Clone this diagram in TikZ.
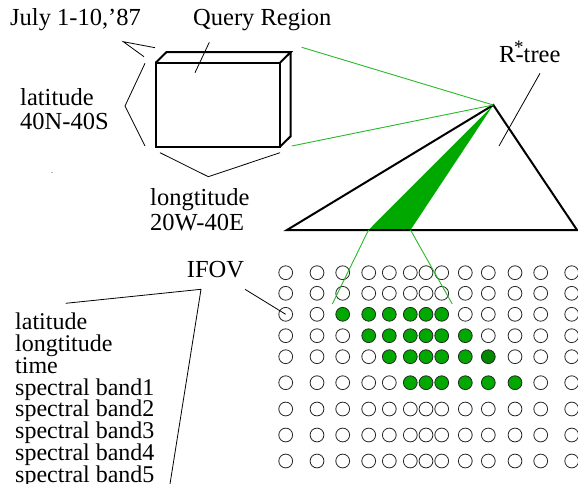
\documentclass[tikz,border=0pt]{standalone}
\usepackage{fontspec}
\setmainfont{Liberation Serif}
\definecolor{leaf}{RGB}{0,168,0}
\definecolor{leafdark}{RGB}{0,136,0}
\definecolor{ray}{RGB}{40,185,40}
\begin{document}
\begin{tikzpicture}[x=1pt,y=-1pt,
  lbl/.style={anchor=base west,inner sep=0pt,font=\fontsize{24.5}{22}\selectfont},
  attr/.style={lbl,font=\fontsize{24}{22}\selectfont},
  lead/.style={line width=0.8pt,line join=miter},
  edge/.style={line width=2pt,line join=miter},
  ray/.style={draw=ray,line width=0.9pt},
  pix/.style={circle,draw=black!85,line width=0.8pt,minimum size=13.8pt,inner sep=0pt},
  hit/.style={pix,fill=leaf},
  hitdark/.style={pix,fill=leafdark}]
\useasboundingbox (0,0) rectangle (578,484);

% ---- labels ----
\node[lbl] (tjuly) at (10,26) {July 1-10,’87};
\node[lbl] (tquery) at (193,26) {Query Region};
\node[lbl] (tlat) at (20,105.3) {latitude};
\node[lbl] (tlatv) at (20,130) {40N-40S};
\node[lbl] (tlon) at (150,205) {longtitude};
\node[lbl] (tlonv) at (150,230) {20W-40E};
\node[lbl] (trtree) at (499,62.3) {R\kern-1.5pt\rlap{\raisebox{9pt}{\fontsize{19}{19}\selectfont *}}\kern1.5pt-tree};
\node[lbl] (tifov) at (186.7,277.7) {IFOV};
\foreach \t [count=\i from 0] in {latitude,longtitude,time,spectral band1,spectral band2,spectral band3,spectral band4,spectral band5}
  \node[attr] (attr\i) at (15,329.3+21.9*\i) {\t};

% ---- query box ----
\coordinate (fa) at (155.7,62.7);
\coordinate (fb) at (280,62.7);
\coordinate (fc) at (280,146.7);
\coordinate (fd) at (155.7,146.7);
\coordinate (ba) at (166.4,52.2);
\coordinate (bb) at (290.7,52.2);
\coordinate (bc) at (290.7,136.2);
\draw[edge] (fa) -- (fb) -- (fc) -- (fd) -- cycle;
\draw[edge] (fa) -- (ba) -- (bb) -- (fb);
\draw[edge] (bb) -- (bc) -- (fc);

% ---- R*-tree ----
\coordinate (apex) at (493.3,105);
\coordinate (tl) at (287,230);
\coordinate (tr) at (577,230);
\coordinate (wl) at (368.5,230);
\coordinate (wr) at (410.5,230);
\fill[leaf] (apex) -- (wl) -- (wr) -- cycle;
\draw[edge] (tl) -- (apex) -- (tr) -- cycle;

% rays from the query box to the tree root
\coordinate (qtop) at (301.7,47.3);
\coordinate (qbot) at (291.7,146);
\draw[ray] (qtop) -- (apex);
\draw[ray] (qbot) -- (apex);

% ---- pixel grid ----
\foreach \y [count=\r] in {272.7,293.3,314.3,335.7,356.7,382.7,409,435,461}{
  \foreach \x [count=\c] in {285.7,317,342.7,368.7,389.3,410.3,426,441.7,465.3,488.3,515,540.7,571.7}{
    \pgfmathtruncatemacro\hit{and(and(\r>2,\r<7),and(\c>\r-1,\c<\r+6))}
    \ifnum\hit=1 \def\sty{hit}\else\def\sty{pix}\fi
    \ifnum\r=5 \ifnum\c=10 \def\sty{hitdark}\fi\fi
    \node[\sty] (p\r-\c) at (\x,\y) {};
  }
}

% rays from the selected leaf down to the pixels
\coordinate (gl) at (332.3,304);
\coordinate (gr) at (452.3,304);
\draw[ray] (wl) -- (gl);
\draw[ray] (wr) -- (gr);

% ---- leader lines ----
\coordinate (j1) at (155,47.7);
\coordinate (j2) at (123.3,41.7);
\coordinate (j3) at (144,56.7);
\draw[lead] (j1) -- (j2) -- (j3);
\coordinate (q1) at (209.3,42.3);
\coordinate (q2) at (195,72.7);
\draw[lead] (q1) -- (q2);
\coordinate (la1) at (145,63.3);
\coordinate (la2) at (125,106);
\coordinate (la3) at (145,146);
\draw[lead] (la1) -- (la2) -- (la3);
\coordinate (lo1) at (160,152.7);
\coordinate (lo2) at (208.3,176.7);
\coordinate (lo3) at (280,152.7);
\draw[lead] (lo1) -- (lo2) -- (lo3);
\coordinate (r1) at (540,73.3);
\coordinate (r2) at (499,146);
\draw[lead] (r1) -- (r2);
\coordinate (if1) at (245,289.3);
\draw[lead] (if1) -- (p3-1.center);
\coordinate (v1) at (65.7,303.3);
\coordinate (v2) at (201,289.3);
\coordinate (v3) at (170,484);
\draw[lead] (v1) -- (v2) -- (v3);

% stray speck
\fill[black!30] (51,171.6) rectangle (52.6,173.2);
\end{tikzpicture}
\end{document}
